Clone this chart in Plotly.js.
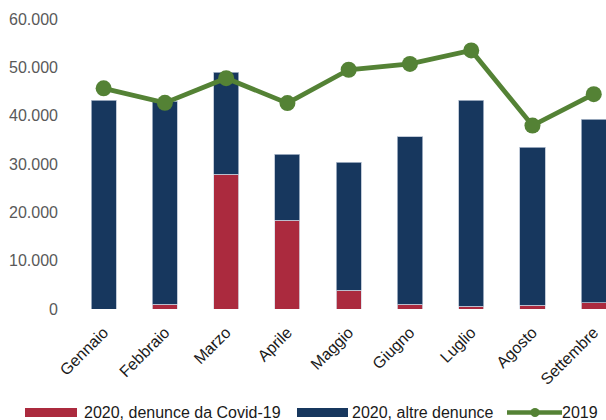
<!DOCTYPE html>
<html><head><meta charset="utf-8">
<script src="https://cdn.plot.ly/plotly-3.0.1.min.js"></script>
<style>html,body{margin:0;padding:0;background:#fff}#chart{width:606px;height:420px}</style>
</head><body><div id="chart"></div>
<script>
var months = ["Gennaio","Febbraio","Marzo","Aprile","Maggio","Giugno","Luglio","Agosto","Settembre"];
var seriesNames = ["2020, denunce da Covid-19", "2020, altre denunce", "2019"];
var covid2020 = [0, 1000, 27900, 18400, 3900, 1000, 600, 800, 1250];
var total2020 = [43200, 43000, 49000, 32000, 30400, 35600, 43200, 33450, 39300];
var altre2020 = total2020.map(function(t,i){return t - covid2020[i];});
var y2019 = [45650, 42650, 47750, 42600, 49500, 50700, 53500, 37950, 44450];

var RED = '#AB2A3E', NAVY = '#17375E', GREEN = '#548235';

var traces = [
  {type:'bar', name:seriesNames[0], x:months, y:covid2020,
   marker:{color:RED, line:{color:'#d9dde6', width:0.8}}, width:0.41},
  {type:'bar', name:seriesNames[1], x:months, y:altre2020,
   marker:{color:NAVY, line:{color:'#b4bfd0', width:0.8}}, width:0.41},
  {type:'scatter', mode:'lines+markers', name:seriesNames[2], x:months, y:y2019,
   line:{color:GREEN, width:4.8}, marker:{color:GREEN, size:16}}
];

// custom legend (paper coordinates)
function px(x){return (x-73)/533;}
function py(y){return (309-y)/290;}
var ly = 412.5;
var shapes = [
  {type:'rect', xref:'paper', yref:'paper', x0:px(25), x1:px(77), y0:py(417), y1:py(408), fillcolor:RED, line:{width:0}},
  {type:'rect', xref:'paper', yref:'paper', x0:px(297), x1:px(348), y0:py(417), y1:py(408), fillcolor:NAVY, line:{width:0}},
  {type:'line', xref:'paper', yref:'paper', x0:px(507), x1:px(562), y0:py(ly), y1:py(ly), line:{color:GREEN, width:4.5}},
  {type:'circle', xref:'paper', yref:'paper', x0:px(530.5), x1:px(539.5), y0:py(417), y1:py(408), fillcolor:GREEN, line:{width:0}}
];
var legX = [82, 350, 560];
var annotations = seriesNames.map(function(n,i){
  return {xref:'paper', yref:'paper', x:px(legX[i]), y:py(ly), xanchor:'left', yanchor:'middle',
          text:n, showarrow:false, font:{size:16, color:'#1a1a1a'}};
});

var layout = {
  width:606, height:420, barmode:'stack', separators:',.',
  margin:{l:73, r:0, t:19, b:111},
  paper_bgcolor:'#fff', plot_bgcolor:'#fff',
  font:{family:'Liberation Sans, Arial, sans-serif', color:'#595959'},
  xaxis:{range:[-0.5, 8.2], tickangle:-45, tickfont:{size:16, color:'#1a1a1a'}, showline:false, ticks:'',
         showgrid:false, automargin:false, ticklabelstandoff:10},
  yaxis:{range:[0,60000], dtick:10000, tickformat:',d', showgrid:false, zeroline:false, showline:false,
         tickfont:{size:16, color:'#595959'}, ticklabelstandoff:14, automargin:false},
  showlegend:false,
  shapes:shapes, annotations:annotations
};
Plotly.newPlot('chart', traces, layout, {displayModeBar:false, staticPlot:true});
</script></body></html>
